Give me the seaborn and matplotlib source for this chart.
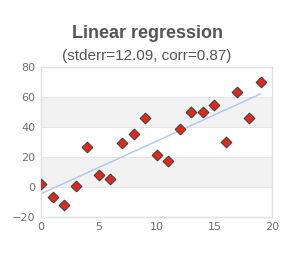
import numpy as np
import pandas as pd
import matplotlib
matplotlib.use("Agg")
import matplotlib.pyplot as plt
import seaborn as sns

x_vals = list(range(20))
y_vals = [1.5, -7, -12, 0.7, 26.3, 7.8, 5.3, 29, 35.3, 45.6,
          21.3, 16.9, 38.5, 50, 50, 54.7, 29.8, 62.9, 45.6, 69.8]
title = "Linear regression"
subtitle = "(stderr=12.09, corr=0.87)"
x_ticks = [0, 5, 10, 15, 20]
y_ticks = [-20, 0, 20, 40, 60, 80]

sns.set_style("white")
plt.rcParams['font.family'] = ['DejaVu Sans']

df = pd.DataFrame({"x": x_vals, "y": y_vals})
slope, intercept = np.polyfit(df["x"], df["y"], 1)
fit = pd.DataFrame({"x": [x_vals[0], x_vals[-1]]})
fit["y"] = intercept + slope * fit["x"]

fig = plt.figure(figsize=(3.0, 2.61), dpi=100)
ax = fig.add_axes([0.137, 0.170, 0.770, 0.574])

# alternating bands
for lo, hi, c in [(-20, 0, "white"), (0, 20, "#f2f2f2"), (20, 40, "white"),
                  (40, 60, "#f2f2f2"), (60, 80, "white")]:
    ax.axhspan(lo, hi, color=c, zorder=0, lw=0)
for yv in y_ticks:
    ax.axhline(yv, color="#e6e6e6", lw=0.8, zorder=0.5)

sns.lineplot(data=fit, x="x", y="y", ax=ax, color="#a9c9f2", lw=1.0, zorder=2)
sns.scatterplot(data=df, x="x", y="y", ax=ax, marker="D", s=30,
                color="#e2281b", edgecolor="#3a3a3a", linewidth=0.7, zorder=3)

ax.set_xlim(0, 20)
ax.set_ylim(-20, 80)
ax.set_xticks(x_ticks)
ax.set_yticks(y_ticks)
ax.set_xlabel("")
ax.set_ylabel("")
for s in ax.spines.values():
    s.set_color("#e0e0e0")
    s.set_linewidth(1.0)
ax.tick_params(axis="both", length=0, labelsize=8, labelcolor="#707070", pad=4)

fig.text(0.493, 0.872, title, ha="center", va="center", fontsize=13,
         fontweight="bold", color="#555555", family=["Liberation Sans"])
fig.text(0.488, 0.786, subtitle, ha="center", va="center", fontsize=11,
         color="#555555", family=["Liberation Sans"])

fig.savefig("out.png", dpi=100)
